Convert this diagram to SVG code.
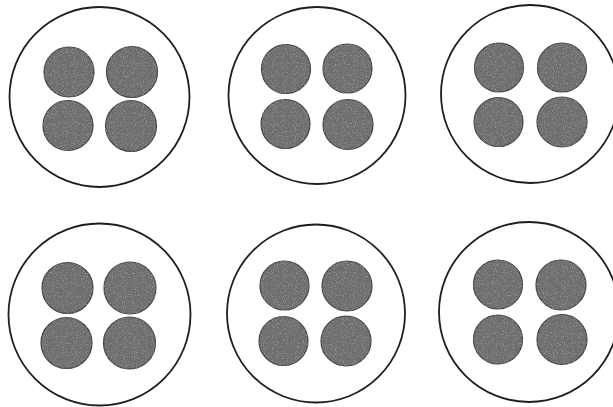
<svg xmlns="http://www.w3.org/2000/svg" width="613" height="407" viewBox="0 0 613 407">
<style>
.ring{fill:#fff;stroke:#1e1e1e;stroke-width:1.8}
.dot{fill:#6e6e6e;stroke:#444;stroke-width:1.2;filter:url(#grain)}
</style>
<defs>
<filter id="grain" x="-10%" y="-10%" width="120%" height="120%">
<feTurbulence type="fractalNoise" baseFrequency="0.9" numOctaves="2" seed="3" result="n"/>
<feColorMatrix in="n" type="matrix" values="0 0 0 0 0.55  0 0 0 0 0.55  0 0 0 0 0.55  0 0 0 1.4 -0.75" result="spk"/>
<feComposite in="spk" in2="SourceGraphic" operator="in" result="s"/>
<feMerge><feMergeNode in="SourceGraphic"/><feMergeNode in="s"/></feMerge>
</filter>
</defs>
<rect width="613" height="407" fill="#fff"/>
<g id="cell-1">
<circle class="ring" cx="99.5" cy="97" r="90"/>
<circle class="dot" cx="69" cy="72" r="25"/>
<circle class="dot" cx="132" cy="72" r="25.5"/>
<circle class="dot" cx="68" cy="125.5" r="25"/>
<circle class="dot" cx="131" cy="126" r="25.5"/>
</g>
<g id="cell-2">
<circle class="ring" cx="317" cy="95.5" r="88.5"/>
<circle class="dot" cx="286" cy="69" r="24.5"/>
<circle class="dot" cx="347.5" cy="68.5" r="24.5"/>
<circle class="dot" cx="285.5" cy="124" r="24.5"/>
<circle class="dot" cx="348" cy="124.5" r="25"/>
</g>
<g id="cell-3">
<circle class="ring" cx="530" cy="94" r="89"/>
<circle class="dot" cx="499" cy="67.5" r="24.5"/>
<circle class="dot" cx="562" cy="67.5" r="24.5"/>
<circle class="dot" cx="498.5" cy="122" r="24.5"/>
<circle class="dot" cx="562" cy="122" r="25"/>
</g>
<g id="cell-4">
<circle class="ring" cx="99.5" cy="314.5" r="91"/>
<circle class="dot" cx="67.5" cy="288" r="25.5"/>
<circle class="dot" cx="130" cy="288" r="26"/>
<circle class="dot" cx="66.5" cy="343" r="25.5"/>
<circle class="dot" cx="129.5" cy="343" r="26"/>
</g>
<g id="cell-5">
<circle class="ring" cx="316" cy="313.5" r="89"/>
<circle class="dot" cx="284.5" cy="285.5" r="24.5"/>
<circle class="dot" cx="347" cy="286" r="25"/>
<circle class="dot" cx="283.5" cy="341" r="24.5"/>
<circle class="dot" cx="346" cy="341" r="25"/>
</g>
<g id="cell-6">
<circle class="ring" cx="529" cy="312" r="90"/>
<circle class="dot" cx="498" cy="284.5" r="24.5"/>
<circle class="dot" cx="561" cy="285" r="25"/>
<circle class="dot" cx="498" cy="339.5" r="24.5"/>
<circle class="dot" cx="562" cy="339.5" r="25"/>
</g>
<g id="connectors"/>
</svg>
